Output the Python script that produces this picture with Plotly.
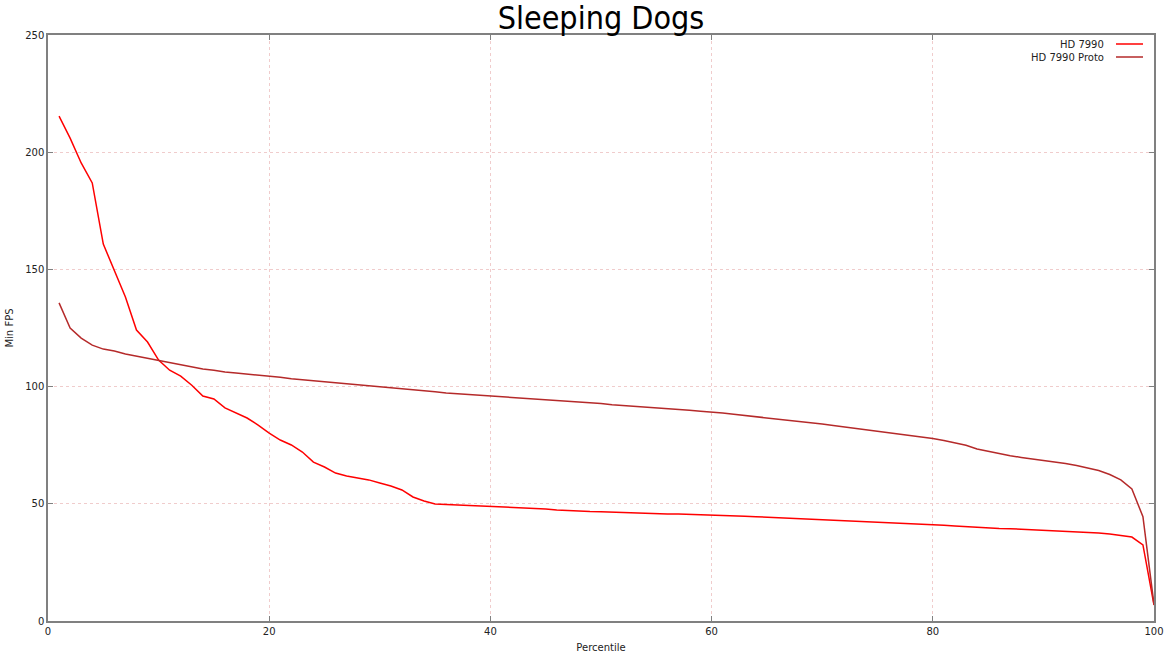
import plotly.graph_objects as go

percentile = list(range(1, 101))

hd7990 = [
    215.4, 206.0, 195.4, 186.9, 160.8, 149.7, 138.2, 124.1, 119.0, 111.3,
    107.0, 104.5, 100.6, 96.0, 94.7, 90.9, 88.7, 86.6, 83.6, 80.2,
    77.2, 75.1, 72.1, 67.8, 65.7, 63.1, 61.9, 61.0, 60.2, 58.9,
    57.6, 55.9, 52.9, 51.2, 49.9, 49.7, 49.5, 49.3, 49.1, 48.9,
    48.8, 48.6, 48.4, 48.1, 47.8, 47.4, 47.1, 46.9, 46.7, 46.6,
    46.4, 46.3, 46.1, 46.0, 45.8, 45.7, 45.6, 45.5, 45.3, 45.2,
    45.0, 44.9, 44.7, 44.5, 44.3, 44.1, 43.9, 43.7, 43.4, 43.2,
    42.9, 42.7, 42.5, 42.3, 42.1, 41.9, 41.7, 41.5, 41.3, 41.1,
    40.8, 40.5, 40.2, 39.9, 39.7, 39.5, 39.4, 39.2, 39.0, 38.8,
    38.6, 38.3, 38.0, 37.7, 37.5, 37.1, 36.6, 35.8, 32.5, 6.8,
]

hd7990_proto = [
    135.7, 125.0, 120.7, 117.7, 116.0, 115.2, 113.9, 113.0, 112.0, 110.9,
    110.0, 109.2, 108.4, 107.5, 107.0, 106.2, 105.8, 105.4, 105.0, 104.5,
    104.0, 103.3, 102.9, 102.5, 102.0, 101.6, 101.2, 100.8, 100.5, 100.1,
    99.7, 99.3, 98.8, 98.3, 97.8, 97.3, 97.0, 96.7, 96.4, 96.1,
    95.7, 95.4, 95.0, 94.8, 94.5, 94.3, 93.9, 93.5, 93.2, 92.8,
    92.3, 92.0, 91.7, 91.4, 91.0, 90.7, 90.4, 89.9, 89.5, 89.2,
    88.7, 88.2, 87.7, 87.2, 86.7, 86.2, 85.8, 85.3, 84.7, 84.0,
    83.4, 82.8, 82.2, 81.6, 80.9, 80.3, 79.9, 79.4, 78.8, 77.9,
    77.0, 76.0, 75.0, 73.4, 72.4, 71.4, 70.5, 69.8, 69.2, 68.6,
    67.9, 67.2, 66.3, 65.4, 64.2, 62.5, 60.2, 56.3, 44.5, 7.0,
]

series_names = ["HD 7990", "HD 7990 Proto"]
series_colors = ["#ff0000", "#b52a2a"]

x_ticks = [0, 20, 40, 60, 80, 100]
y_ticks = [0, 50, 100, 150, 200, 250]

FONT = "DejaVu Sans"

fig = go.Figure()
for name, vals, col in zip(series_names, [hd7990, hd7990_proto], series_colors):
    fig.add_trace(go.Scatter(x=percentile, y=vals, mode="lines", name=name,
                             line=dict(color=col, width=1.5), showlegend=False))

axis_common = dict(
    showline=True, linecolor="#808080", linewidth=1.5, mirror="ticks",
    ticks="inside", ticklen=5, tickcolor="#808080",
    showgrid=True, gridcolor="#f0cccc", griddash="dot", gridwidth=1,
    zeroline=False, automargin=False,
    tickfont=dict(family=FONT, size=10, color="#222"),
)

fig.update_xaxes(range=[0, 100], tickvals=x_ticks,
                 title=dict(text="Percentile", font=dict(family=FONT, size=10, color="#222"), standoff=8),
                 **axis_common)
fig.update_yaxes(range=[0, 250], tickvals=y_ticks,
                 title=dict(text="Min FPS", font=dict(family=FONT, size=10, color="#222"), standoff=10),
                 **axis_common)

W_PLOT = 1106
H_PLOT = 586
# legend (text on the left, sample line on the right, like gnuplot)
for i, (name, col) in enumerate(zip(series_names, series_colors)):
    ypos = 1 - (9 + 13 * i) / H_PLOT
    fig.add_annotation(xref="paper", yref="paper", x=(1106 - 48) / W_PLOT, y=ypos,
                       text=name, showarrow=False, xanchor="right", yanchor="middle",
                       font=dict(family=FONT, size=10, color="#222"))
    fig.add_shape(type="line", xref="paper", yref="paper",
                  x0=(1116 - 48) / W_PLOT, x1=(1143 - 48) / W_PLOT, y0=ypos, y1=ypos,
                  line=dict(color=col, width=1.5))

fig.update_layout(
    width=1170, height=658,
    margin=dict(l=48, r=16, t=35, b=37),
    paper_bgcolor="white", plot_bgcolor="white",
    title=dict(text="Sleeping Dogs", x=601 / 1170, xanchor="center",
               y=1 - 18 / 658, yanchor="middle", pad=dict(t=0, b=0),
               font=dict(family="DejaVu Sans Condensed", size=32, color="#000")),
)

fig.write_html("out.html", config={"displayModeBar": False},
               post_script="document.body.style.margin='0';")
